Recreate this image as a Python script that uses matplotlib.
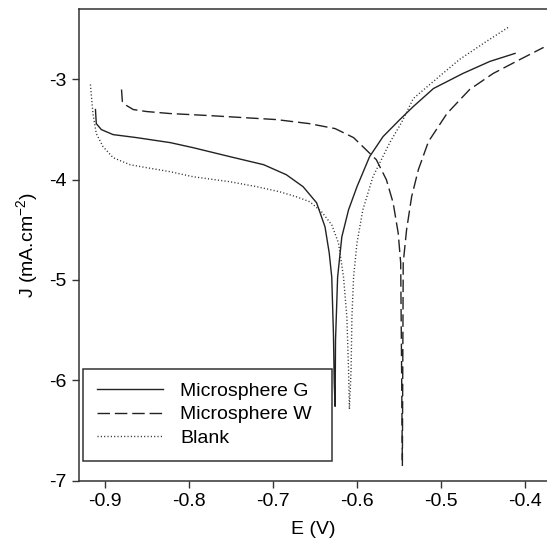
import matplotlib
matplotlib.use("Agg")
import matplotlib.pyplot as plt

plt.rcParams['font.family'] = ['Liberation Sans', 'DejaVu Sans']
plt.rcParams['mathtext.fontset'] = 'custom'
plt.rcParams['mathtext.rm'] = 'Liberation Sans'

# polarisation curves
E_g = [-0.911, -0.910, -0.904, -0.890, -0.862, -0.822, -0.795, -0.751, -0.711,
       -0.684, -0.664, -0.648, -0.638, -0.633, -0.630, -0.628, -0.627, -0.626,
       -0.6255, -0.623, -0.618, -0.610, -0.600, -0.585, -0.569, -0.549, -0.533,
       -0.509, -0.474, -0.442, -0.412]
J_g = [-3.30, -3.44, -3.50, -3.55, -3.58, -3.63, -3.68, -3.77, -3.85,
       -3.95, -4.07, -4.23, -4.47, -4.73, -4.97, -5.53, -6.03, -6.26,
       -5.60, -4.97, -4.57, -4.30, -4.07, -3.77, -3.57, -3.40, -3.27,
       -3.09, -2.94, -2.82, -2.74]

E_w = [-0.880, -0.879, -0.874, -0.866, -0.850, -0.822, -0.776, -0.736, -0.696,
       -0.657, -0.626, -0.604, -0.593, -0.577, -0.565, -0.557, -0.551, -0.548,
       -0.547, -0.546, -0.5455, -0.545, -0.541, -0.535, -0.527, -0.515, -0.493,
       -0.466, -0.438, -0.406, -0.378]
J_w = [-3.10, -3.22, -3.26, -3.30, -3.32, -3.34, -3.36, -3.38, -3.40,
       -3.44, -3.49, -3.58, -3.67, -3.80, -4.00, -4.23, -4.53, -4.83,
       -5.80, -6.85, -5.80, -4.83, -4.50, -4.17, -3.90, -3.62, -3.34,
       -3.10, -2.94, -2.80, -2.68]

E_b = [-0.917, -0.914, -0.910, -0.902, -0.890, -0.870, -0.850, -0.822, -0.795,
       -0.751, -0.719, -0.692, -0.672, -0.656, -0.642, -0.630, -0.622, -0.616,
       -0.612, -0.610, -0.609, -0.607, -0.606, -0.604, -0.600, -0.593, -0.581,
       -0.561, -0.547, -0.533, -0.505, -0.478, -0.446, -0.420]
J_b = [-3.05, -3.34, -3.54, -3.67, -3.78, -3.85, -3.88, -3.92, -3.97,
       -4.02, -4.07, -4.12, -4.17, -4.22, -4.32, -4.45, -4.63, -4.97,
       -5.37, -5.90, -6.29, -5.90, -5.37, -4.97, -4.63, -4.30, -3.97,
       -3.63, -3.43, -3.19, -2.99, -2.80, -2.62, -2.48]

labels = ['Microsphere G', 'Microsphere W', 'Blank']
x_ticks = [-0.9, -0.8, -0.7, -0.6, -0.5, -0.4]
y_ticks = [-7, -6, -5, -4, -3]

fig = plt.figure(figsize=(5.47, 5.53), dpi=100)
ax = fig.add_axes([0.1453, 0.1311, 0.8547, 0.8521])

ax.plot(E_g, J_g, color='#222222', lw=1.0, ls='-', label=labels[0])
ax.plot(E_w, J_w, color='#222222', lw=1.0, ls=(0, (9, 3.5)), label=labels[1])
ax.plot(E_b, J_b, color='#333333', lw=1.0, ls=(0, (0.8, 1.6)), label=labels[2])

ax.set_xlim(-0.930, -0.374)
ax.set_ylim(-7, -2.3)
ax.set_xticks(x_ticks)
ax.set_yticks(y_ticks)
ax.set_xticklabels([f'{v:.1f}' for v in x_ticks])
ax.set_yticklabels([str(v) for v in y_ticks])
ax.tick_params(direction='out', length=5, width=1, colors='#333333',
               labelcolor='black', labelsize=14, pad=4)
for side in ['left', 'bottom', 'top']:
    ax.spines[side].set_linewidth(1.1)
    ax.spines[side].set_color('#333333')
ax.spines['right'].set_visible(False)

ax.set_xlabel('E (V)', fontsize=14, labelpad=8)
ax.set_ylabel('J (mA.cm$^{-2}$)', fontsize=14, labelpad=6)

leg = ax.legend(loc='lower left',
                bbox_to_anchor=(83 / 547, 92.5 / 553, 249 / 547, 96 / 553),
                bbox_transform=fig.transFigure, mode='expand', borderaxespad=0,
                fontsize=14, handlelength=3.4, handletextpad=0.9,
                labelspacing=0.3, borderpad=0.7, fancybox=False,
                framealpha=1)
leg.get_frame().set_edgecolor('#333333')
leg.get_frame().set_linewidth(1.1)

fig.savefig('out.png', dpi=100)
